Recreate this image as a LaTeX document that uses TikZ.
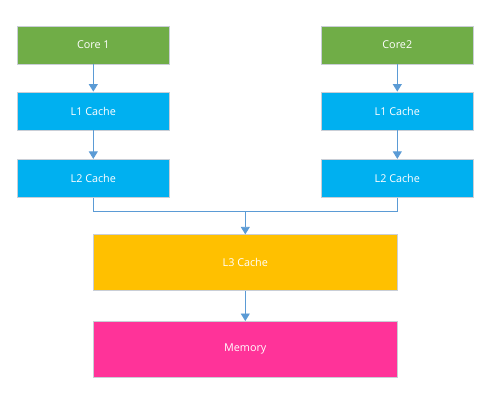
\documentclass[tikz,border=0pt]{standalone}
\usepackage{fontspec}
\setmainfont{Open Sans}
\usetikzlibrary{arrows.meta,positioning}
\definecolor{cgreen}{HTML}{70AD47}
\definecolor{cblue}{HTML}{00B0F0}
\definecolor{corange}{HTML}{FFC000}
\definecolor{cpink}{HTML}{FF3399}
\definecolor{cline}{HTML}{5B9BD5}
\definecolor{cborder}{HTML}{C9CED6}
\tikzset{
  boxstyle/.style={draw=cborder, line width=0.8pt, text=white, font=\fontsize{10.8}{12}\selectfont, inner sep=0pt, anchor=center},
  smallbox/.style={boxstyle, minimum width=152pt, minimum height=38pt},
  bigbox/.style={boxstyle, minimum width=304pt, minimum height=55.5pt},
  conn/.style={draw=cline, line width=0.9pt, -{Triangle[width=9pt,length=7.5pt]}},
  plainconn/.style={draw=cline, line width=0.9pt}
}
\begin{document}
\begin{tikzpicture}[x=1pt,y=1pt]
\useasboundingbox (0,0) rectangle (492,403);
\node[smallbox, fill=cgreen] (core1) at (93.3,358) {Core 1};
\node[smallbox, fill=cblue] (l1a) at (93.3,292) {L1 Cache};
\node[smallbox, fill=cblue] (l2a) at (93.3,224.7) {L2 Cache};
\node[smallbox, fill=cgreen] (core2) at (397.3,358) {Core2};
\node[smallbox, fill=cblue] (l1b) at (397.3,292) {L1 Cache};
\node[smallbox, fill=cblue] (l2b) at (397.3,224.7) {L2 Cache};
\node[bigbox, fill=corange] (l3) at (245.3,140.5) {L3 Cache};
\node[bigbox, fill=cpink] (mem) at (245.3,53.8) {Memory};
\coordinate (join) at (245.3,191.7);
\draw[conn] (core1) -- (l1a);
\draw[conn] (l1a) -- (l2a);
\draw[conn] (core2) -- (l1b);
\draw[conn] (l1b) -- (l2b);
\draw[plainconn] (l2a.south) |- (join);
\draw[plainconn] (l2b.south) |- (join);
\draw[conn] (join) -- (l3.north);
\draw[conn] (l3) -- (mem);
\end{tikzpicture}
\end{document}
